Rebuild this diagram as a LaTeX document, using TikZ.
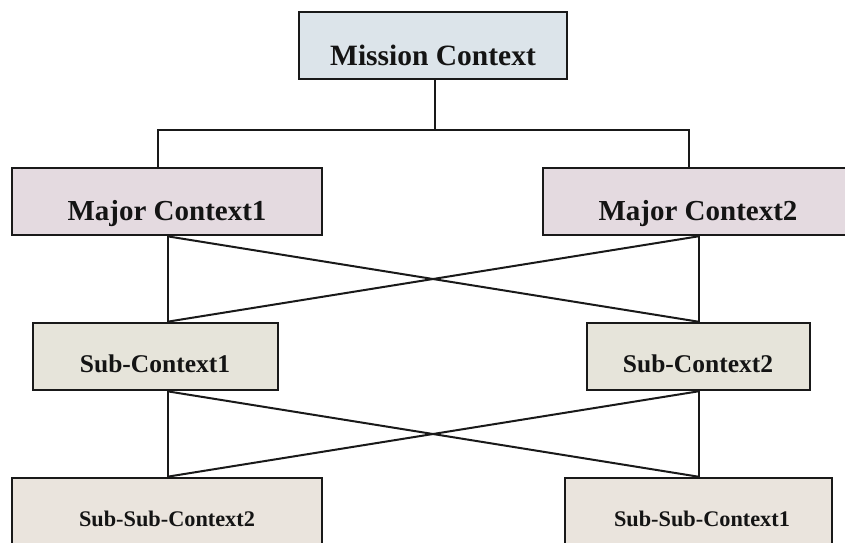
\documentclass[tikz,border=0pt]{standalone}
\usepackage{fontspec}
\setmainfont{Liberation Serif}
\begin{document}
\begin{tikzpicture}[x=1pt,y=-1pt,
  box/.style={draw=black!90,line width=2.6pt,inner sep=0pt},
  wire/.style={draw=black!90,line width=2pt},
  lbl/.style={anchor=base,inner sep=0pt,text=black!92,font=\bfseries}]
\definecolor{mission}{RGB}{220,228,234}
\definecolor{major}{RGB}{228,218,224}
\definecolor{sub}{RGB}{230,228,218}
\definecolor{subsub}{RGB}{234,228,221}
\useasboundingbox (0,0) rectangle (845,542);
\clip (0,0) rectangle (845,542);

% boxes
\node[box,fill=mission,minimum width=268pt,minimum height=67pt] (mc) at (433,45.5) {};
\node[box,fill=major,minimum width=310pt,minimum height=67pt] (ma1) at (167,201.5) {};
\node[box,fill=major,minimum width=310pt,minimum height=67pt] (ma2) at (698,201.5) {};
\node[box,fill=sub,minimum width=245pt,minimum height=67pt] (sc1) at (155.5,356.5) {};
\node[box,fill=sub,minimum width=223pt,minimum height=67pt] (sc2) at (698.5,356.5) {};
\node[box,fill=subsub,minimum width=310pt,minimum height=90pt] (ss2) at (167,523) {};
\node[box,fill=subsub,minimum width=267pt,minimum height=90pt] (ss1) at (698.5,523) {};

% labels
\node[lbl,font=\bfseries\fontsize{29.5}{32}\selectfont] (tmc) at (433,65) {Mission Context};
\node[lbl,font=\bfseries\fontsize{29}{32}\selectfont] (tma1) at (167,220) {Major Context1};
\node[lbl,font=\bfseries\fontsize{29}{32}\selectfont] (tma2) at (698,220) {Major Context2};
\node[lbl,font=\bfseries\fontsize{25.5}{28}\selectfont] (tsc1) at (155,372) {Sub-Context1};
\node[lbl,font=\bfseries\fontsize{25.5}{28}\selectfont] (tsc2) at (698,372) {Sub-Context2};
\node[lbl,font=\bfseries\fontsize{22.3}{25}\selectfont] (tss2) at (167,526) {Sub-Sub-Context2};
\node[lbl,font=\bfseries\fontsize{22.3}{25}\selectfont] (tss1) at (702,526) {Sub-Sub-Context1};

% columns used by the connectors
\coordinate (top) at (435,0);
\coordinate (bus) at (0,130);
\coordinate (tl) at (158,0);
\coordinate (tr) at (689,0);
\coordinate (cl) at (167.5,0);
\coordinate (cr) at (698.5,0);

% mission to major contexts
\draw[wire] (mc.south -| top) -- (top |- bus);
\draw[wire] (tl |- ma1.north) -- (tl |- bus) -- (tr |- bus) -- (tr |- ma2.north);

% major to sub contexts
\draw[wire] (cl |- ma1.south) -- (cl |- sc1.north);
\draw[wire] (cr |- ma2.south) -- (cr |- sc2.north);
\draw[wire] (cl |- ma1.south) -- (cr |- sc2.north);
\draw[wire] (cr |- ma2.south) -- (cl |- sc1.north);

% sub to sub-sub contexts
\draw[wire] (cl |- sc1.south) -- (cl |- ss2.north);
\draw[wire] (cr |- sc2.south) -- (cr |- ss1.north);
\draw[wire] (cl |- sc1.south) -- (cr |- ss1.north);
\draw[wire] (cr |- sc2.south) -- (cl |- ss2.north);
\end{tikzpicture}
\end{document}
